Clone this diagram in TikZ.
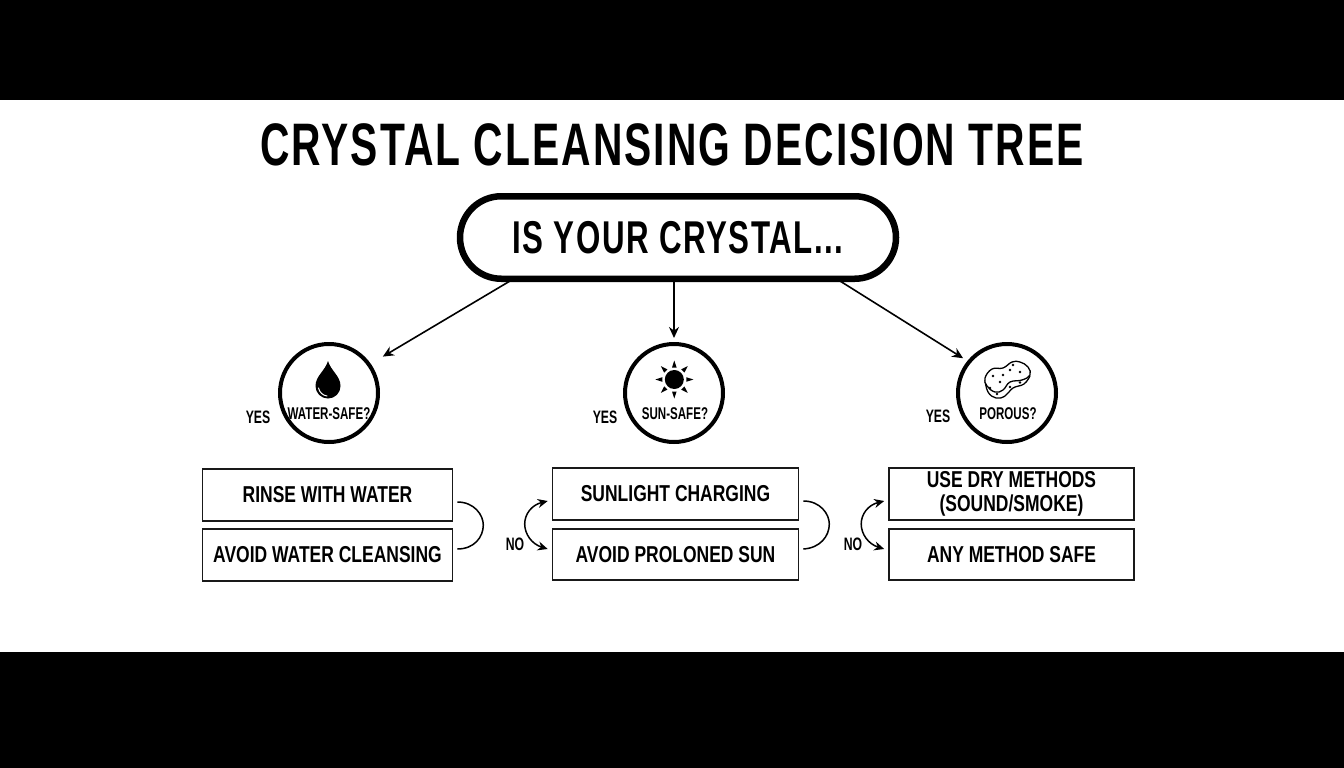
\documentclass[tikz,border=0pt]{standalone}
\usepackage{fontspec}
\setmainfont{Liberation Sans}[FakeStretch=0.76]
\newfontfamily\titlefont{Liberation Sans}[FakeStretch=0.68,LetterSpace=3.4]
\newfontfamily\smallfont{Liberation Sans}[FakeStretch=0.68]
\usetikzlibrary{arrows.meta,shapes.misc,calc}
\tikzset{
  txt/.style={font=\bfseries\fontsize{#1}{#1}\selectfont,inner sep=0pt,text=black},
  big/.style={font=\titlefont\bfseries\fontsize{#1}{#1}\selectfont,inner sep=0pt,text=black},
  lab/.style={font=\smallfont\bfseries\fontsize{#1}{#1}\selectfont,inner sep=0pt,text=black},
  pill/.style={rounded rectangle,draw=black,line width=6.5pt,fill=white,minimum width=436pt,minimum height=82.5pt,inner sep=0pt},
  qcirc/.style={circle,draw=black,line width=4pt,fill=white,minimum size=98pt,inner sep=0pt},
  abox/.style={rectangle,draw=black!90,line width=1.6pt,fill=white,inner sep=0pt,align=center},
  flow/.style={line width=1.6pt,draw=black,-{Stealth[length=11pt,width=10pt]}},
  flowtwo/.style={line width=1.5pt,draw=black,{Stealth[length=10pt,width=9pt]}-{Stealth[length=10pt,width=9pt]}},
  brace/.style={line width=1.5pt,draw=black},
}
\begin{document}
\begin{tikzpicture}[x=1pt,y=-1pt]
\useasboundingbox (0,0) rectangle (1344,768);
\fill[black] (0,0) rectangle (1344,100);
\fill[black] (0,652) rectangle (1344,768);
\node[big=60] (title) at (672,145) {CRYSTAL CLEANSING DECISION TREE};
\node[pill,big=46] (top) at (678,237.5) {IS YOUR CRYSTAL...};
\node[qcirc] (water) at (329,393) {};
\node[qcirc] (sun) at (674,393) {};
\node[qcirc] (porous) at (1007,393) {};
\node[lab=17] (wl) at (329,414) {WATER-SAFE?};
\node[lab=17] (sl) at (675,414) {SUN-SAFE?};
\node[lab=17] (pl) at (1008,414) {POROUS?};
\node[lab=18] (yes1) at (258,417) {YES};
\node[lab=18] (yes2) at (605,417) {YES};
\node[lab=18] (yes3) at (938,416) {YES};
\node[lab=18] (no1) at (515,544) {NO};
\node[lab=18] (no2) at (853,544) {NO};
\node[abox,minimum width=250pt,minimum height=52pt,txt=23] (b1) at (327.5,495) {RINSE WITH WATER};
\node[abox,minimum width=250pt,minimum height=52pt,txt=23] (b2) at (327.5,555) {AVOID WATER CLEANSING};
\node[abox,minimum width=246pt,minimum height=52pt,txt=23] (b3) at (675.5,494) {SUNLIGHT CHARGING};
\node[abox,minimum width=246pt,minimum height=51pt,txt=23] (b4) at (675.5,554.5) {AVOID PROLONED SUN};
\node[abox,minimum width=245pt,minimum height=52pt,txt=23] (b5) at (1011.5,494) {USE DRY METHODS\\[1pt](SOUND/SMOKE)};
\node[abox,minimum width=245pt,minimum height=51pt,txt=23] (b6) at (1011.5,554.5) {ANY METHOD SAFE};
\coordinate (s1) at (510,281);
\coordinate (s3) at (840,281);
\draw[flow,shorten >=14pt] (s1) -- (water.35);
\draw[flow,shorten >=4pt] (top.south -| sun) -- (sun.north);
\draw[flow,shorten >=5pt] (s3) -- (porous.141);
\draw[brace] ($(b1.east)+(4,7)$) .. controls ($(b1.east)+(21,7)$) and ($(b1.east)+(30,20)$) .. ($(b1.east)+(30,30)$) .. controls ($(b1.east)+(30,42)$) and ($(b1.east)+(21,54)$) .. ($(b2.east)+(4,-6)$);
\draw[brace] ($(b3.east)+(4,7)$) .. controls ($(b3.east)+(21,7)$) and ($(b3.east)+(30,20)$) .. ($(b3.east)+(30,30)$) .. controls ($(b3.east)+(30,42)$) and ($(b3.east)+(21,54)$) .. ($(b4.east)+(4,-5.5)$);
\draw[flowtwo] ($(b3.west)+(-4,7)$) .. controls ($(b3.west)+(-20,11)$) and ($(b3.west)+(-27,20)$) .. ($(b3.west)+(-27,30)$) .. controls ($(b3.west)+(-27,40)$) and ($(b3.west)+(-20,50)$) .. ($(b4.west)+(-4,-5.5)$);
\draw[flowtwo] ($(b5.west)+(-4,7)$) .. controls ($(b5.west)+(-20,11)$) and ($(b5.west)+(-27,20)$) .. ($(b5.west)+(-27,30)$) .. controls ($(b5.west)+(-27,40)$) and ($(b5.west)+(-20,50)$) .. ($(b6.west)+(-4,-5.5)$);
% drop
\fill[black] (328,361) .. controls (331,371) and (340.5,376) .. (340.5,386) .. controls (340.5,393) and (335,398.5) .. (328,398.5) .. controls (321,398.5) and (315.5,393) .. (315.5,386) .. controls (315.5,376) and (325,371) .. (328,361) -- cycle;
\draw[white,line width=1pt,line cap=round] (318.5,388) .. controls (319.5,392.5) and (323,395.5) .. (327,396);
% sun
\fill[black] (674.3,379.5) circle (9.5pt);
\foreach \a in {0,45,...,315}{
  \fill[black,shift={(674.3,379.5)},rotate=\a] (12,-2.3) -- (19,0) -- (12,2.3) -- cycle;
}
% sponge
\filldraw[fill=white,draw=black,line width=1.3pt] plot[smooth,tension=0.7] coordinates {(985,380) (988,392) (996,398) (1005,396) (1013,388) (1024,384) (1030,376)};
\filldraw[fill=white,draw=black,line width=1.3pt] plot[smooth cycle,tension=0.7] coordinates {(985,378) (992,369) (1003,368) (1012,362) (1020,362) (1028,367) (1030,375) (1022,380) (1010,382) (1003,390) (995,392) (987,386)};
\foreach \p in {(1013,365),(1020,372),(1010,370),(1003,375),(993,376),(1000,382),(990,388),(997,394),(1020,382.5),(1010,387)}{
  \fill[black] \p circle (1.4pt);
}
\end{tikzpicture}
\end{document}
